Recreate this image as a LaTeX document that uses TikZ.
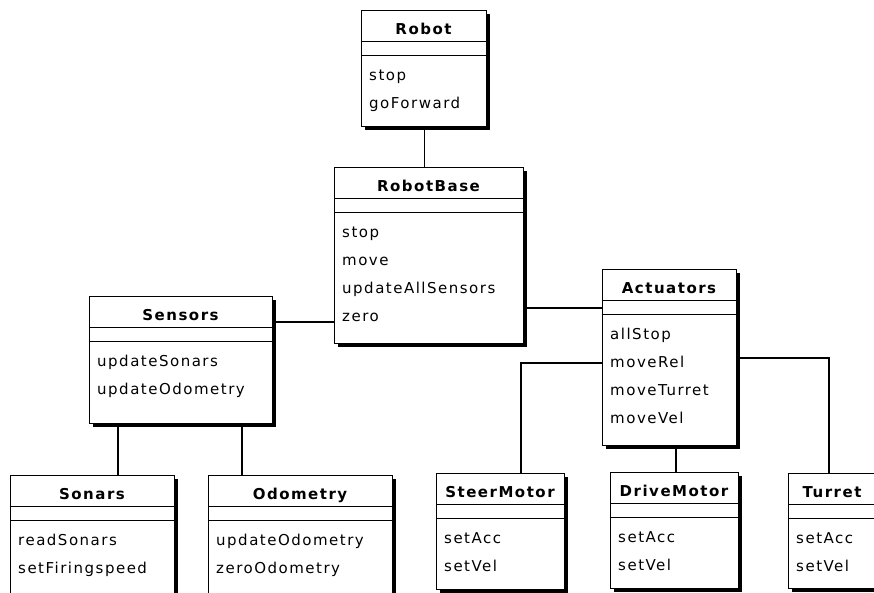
\documentclass[tikz,border=0pt]{standalone}
\usepackage{fontspec}
\setmainfont{DejaVu Sans}[LetterSpace=10]
\usetikzlibrary{shadows,calc}
\tikzset{
  umlbox/.style={draw=black, line width=1.3pt, fill=white, rectangle, inner sep=0pt, anchor=north west,
    drop shadow={shadow xshift=3.5pt, shadow yshift=-3.5pt, fill=black, opacity=1}},
  umltitle/.style={font=\bfseries\fontsize{15}{17}\selectfont, anchor=base, inner sep=0pt},
  umlop/.style={font=\fontsize{15}{17}\selectfont, anchor=base west, inner sep=0pt},
  umlsep/.style={draw=black, line width=1pt},
  link/.style={draw=black, line width=1.1pt},
}
\newcommand{\umlclass}[7]{%
  \node[umlbox, minimum width={(#4-#2)*1pt}, minimum height={(#5-#3)*1pt}] (#1) at (#2,#3) {};
  \draw[umlsep] (#2,#3+31) -- (#4,#3+31);
  \draw[umlsep] (#2,#3+45.5) -- (#4,#3+45.5);
  \node[umltitle] (#1-title) at ({(#2+#4)/2},#3+24.5) {#6};
  \foreach \op [count=\i] in {#7} {
    \node[umlop] (#1-op\i) at (#2+8,{#3+70+(\i-1)*28}) {\op};
  }
}
\begin{document}
\begin{tikzpicture}[x=1pt,y=-1pt]
\clip (0,0) rectangle (874,592);
\fill[white] (0,0) rectangle (874,592);
\umlclass{robot}{361}{10}{486}{126}{Robot}{stop,goForward}
\umlclass{robotbase}{334}{167}{523}{343}{RobotBase}{stop,move,updateAllSensors,zero}
\umlclass{sensors}{89}{296}{272}{423}{Sensors}{updateSonars,updateOdometry}
\umlclass{actuators}{602}{269}{736}{445}{Actuators}{allStop,moveRel,moveTurret,moveVel}
\umlclass{sonars}{10}{475}{174}{620}{Sonars}{readSonars,setFiringspeed}
\umlclass{odometry}{208}{475}{392}{620}{Odometry}{updateOdometry,zeroOdometry}
\umlclass{steermotor}{436}{473}{564}{589}{SteerMotor}{setAcc,setVel}
\umlclass{drivemotor}{610}{472}{738}{588}{DriveMotor}{setAcc,setVel}
\umlclass{turret}{788}{473}{876}{588}{Turret}{setAcc,setVel}

\draw[link] (robot.south) -- (robot.south |- robotbase.north);
\coordinate (sr) at ($(sensors.north east)+(0,26)$);
\draw[link] (sr) -- (sr -| robotbase.west);
\coordinate (ra) at ($(actuators.north west)+(0,39)$);
\draw[link] (ra) -- (ra -| robotbase.east);
\coordinate (ss) at ($(sensors.south west)+(29,0)$);
\draw[link] (ss) -- (ss |- sonars.north);
\coordinate (so) at ($(sensors.south west)+(153,0)$);
\draw[link] (so) -- (so |- odometry.north);
\coordinate (as) at ($(actuators.north west)+(0,94)$);
\coordinate (sm) at ($(steermotor.north west)+(85,0)$);
\draw[link] (as) -| (sm);
\coordinate (ad) at ($(actuators.south west)+(74,0)$);
\draw[link] (ad) -- (ad |- drivemotor.north);
\coordinate (at) at ($(actuators.north east)+(0,89)$);
\coordinate (tm) at ($(turret.north west)+(41,0)$);
\draw[link] (at) -| (tm);
\end{tikzpicture}
\end{document}
